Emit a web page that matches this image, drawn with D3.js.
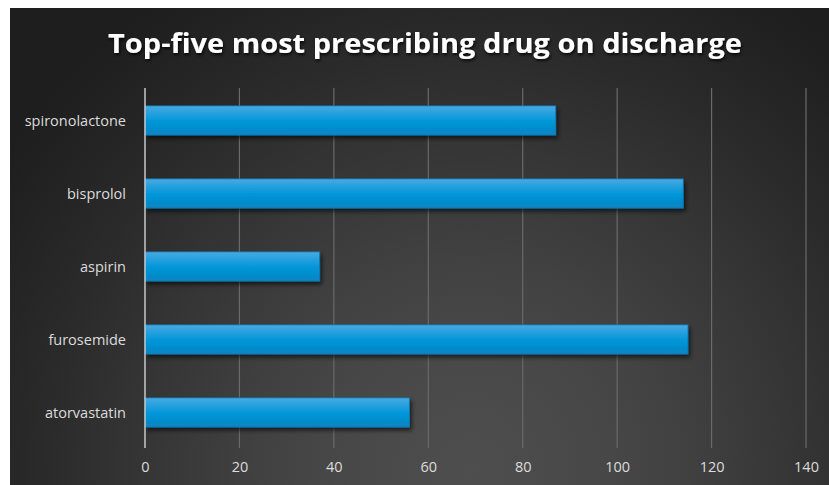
<!DOCTYPE html>
<html><head><meta charset="utf-8">
<script src="https://cdn.jsdelivr.net/npm/d3@7"></script>
<style>
html,body{margin:0;padding:0;background:#fff;}
svg{display:block;}
</style></head>
<body>
<script>
const categories = ["spironolactone","bisprolol","aspirin","furosemide","atorvastatin"];
const values = [87, 114, 37, 115, 56];
const tickValues = [0,20,40,60,80,100,120,140];
const title = "Top-five most prescribing drug on discharge";

const W = 829, H = 485;
const svg = d3.select("body").append("svg").attr("width", W).attr("height", H);
const defs = svg.append("defs");

// background radial gradient with banding
const rg = defs.append("radialGradient").attr("id","bg")
  .attr("gradientUnits","userSpaceOnUse").attr("cx",470).attr("cy",470).attr("r",560);
const stops = [[0,"#4e4e4e"],[0.12,"#4b4b4b"],[0.25,"#474747"],[0.38,"#414141"],[0.5,"#3a3a3a"],[0.62,"#333333"],[0.75,"#2b2b2b"],[0.88,"#242424"],[1,"#1e1e1e"]];
stops.forEach(s=>rg.append("stop").attr("offset",s[0]).attr("stop-color",s[1]));

const bar = defs.append("linearGradient").attr("id","bar").attr("x1",0).attr("y1",0).attr("x2",0).attr("y2",1);
[[0,"#4aaae2"],[0.3,"#1f9edd"],[0.55,"#0096d8"],[1,"#0983c0"]].forEach(s=>bar.append("stop").attr("offset",s[0]).attr("stop-color",s[1]));

const sh = defs.append("filter").attr("id","shadow").attr("x","-5%").attr("y","-30%").attr("width","115%").attr("height","180%");
sh.append("feDropShadow").attr("dx",2).attr("dy",3).attr("stdDeviation",2).attr("flood-color","#000").attr("flood-opacity",0.6);
const tsh = defs.append("filter").attr("id","tshadow").attr("x","-5%").attr("y","-30%").attr("width","115%").attr("height","180%");
tsh.append("feDropShadow").attr("dx",1).attr("dy",2).attr("stdDeviation",1.5).attr("flood-color","#000").attr("flood-opacity",0.8);

svg.append("rect").attr("x",10).attr("y",8).attr("width",W-10).attr("height",H-8).attr("fill","url(#bg)");

const x = d3.scaleLinear().domain([0,140]).range([145, 806]);
const y = d3.scaleBand().domain(categories).range([84, 449]).paddingInner(0.6).paddingOuter(0.3);

// gridlines
svg.append("g").selectAll("line").data(tickValues.filter(d=>d>0)).join("line")
  .attr("x1",d=>x(d)).attr("x2",d=>x(d)).attr("y1",88).attr("y2",448)
  .attr("stroke","#6a6a6a").attr("stroke-width",1.2);

// bars
svg.append("g").selectAll("rect").data(categories).join("rect")
  .attr("x",x(0)).attr("y",d=>y(d))
  .attr("width",(d,i)=>x(values[i])-x(0)).attr("height",y.bandwidth())
  .attr("fill","url(#bar)").attr("stroke","#0b78b0").attr("stroke-width",0.8)
  .attr("filter","url(#shadow)");

// axis line
svg.append("line").attr("x1",x(0)).attr("x2",x(0)).attr("y1",88).attr("y2",448)
  .attr("stroke","#c8c8c8").attr("stroke-width",1.5);

// category labels
svg.append("g").selectAll("text").data(categories).join("text")
  .attr("x",126).attr("y",d=>y(d)+y.bandwidth()/2)
  .attr("text-anchor","end").attr("dominant-baseline","central")
  .attr("font-family","'Open Sans', 'Noto Sans', sans-serif").attr("font-size",14.5)
  .attr("fill","#dcdcdc").text(d=>d);

// x tick labels
const xa = d3.axisBottom(x).tickValues(tickValues).tickSize(0).tickPadding(0);
const gx = svg.append("g").attr("transform","translate(0,462)").call(xa);
gx.select(".domain").remove();
gx.selectAll("text").attr("font-family","'Open Sans', 'Noto Sans', sans-serif").attr("font-size",14.5)
  .attr("fill","#dcdcdc").attr("dy","0.71em");

// title
svg.append("text").attr("x",425).attr("y",43).attr("text-anchor","middle").attr("dominant-baseline","central")
  .attr("font-family","'Open Sans', 'Noto Sans', sans-serif").attr("font-weight","bold").attr("font-size",26)
  .attr("fill","#ffffff").attr("filter","url(#tshadow)").attr("textLength",634).attr("lengthAdjust","spacingAndGlyphs")
  .text(title);
</script>
</body></html>
